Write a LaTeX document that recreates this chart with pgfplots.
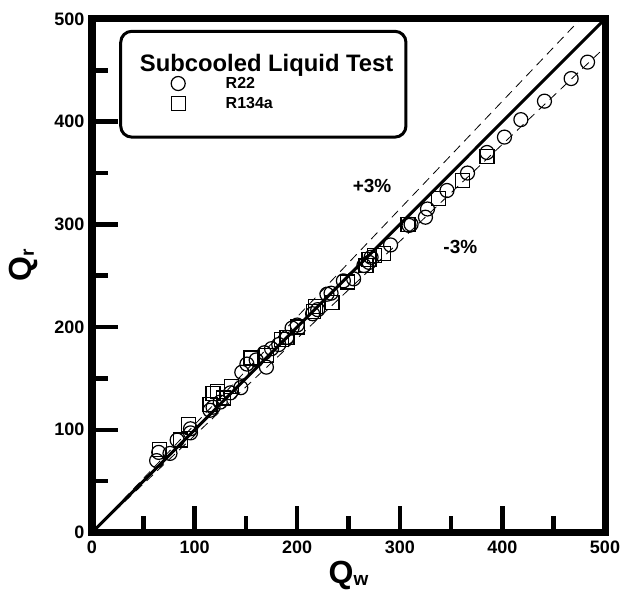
\documentclass[border=0pt]{standalone}
\usepackage{pgfplots}
\pgfplotsset{compat=1.18}
\usepackage{fontspec}
\setmainfont{Liberation Sans}
\pgfplotstableread{
x y
63 70
65 78
76 77
83 90
96 97
96 101
115 119
118 122
125 127
135 136
145 141
146 156
151 164
160 168
168 175
170 161
175 179
182 183
190 190
195 199
200 202
215 213
220 217
229 232
233 233
245 245
255 247
265 260
270 263
272 268
291 280
309 299
311 300
325 307
327 315
346 333
366 350
385 370
402 385
418 402
441 420
467 442
483 458
}\rtwotwo
\pgfplotstableread{
x y
66 81
86 90
94 105
115 125
118 135
122 137
128 131
136 142
155 170
170 172
185 188
190 190
200 200
216 215
218 220
234 224
249 244
267 260
270 266
275 270
284 272
308 300
338 325
361 343
385 366
}\ronethree
\begin{document}
\begin{tikzpicture}
\begin{axis}[
 scale only axis, width=513pt, height=513.5pt,
 xmin=0,xmax=500,ymin=0,ymax=500,
 xtick={0,100,...,500}, ytick={0,100,...,500},
 minor tick num=1,
 tick pos=left, tick align=inside,
 major tick length=26pt, minor tick length=16pt,
 xtick style={line width=4.5pt, black},
 ytick style={line width=4.5pt, black},
 axis line style={line width=7pt},
 ticklabel style={font=\fontsize{18}{20}\selectfont\bfseries},
 yticklabel style={xshift=-4pt},
 xticklabel style={yshift=-5pt},
 /pgf/number format/assume math mode=true,
 xlabel={\fontsize{32}{34}\selectfont\bfseries Q\raisebox{-2pt}{\fontsize{19}{20}\selectfont w}},
 ylabel={\fontsize{32}{34}\selectfont\bfseries Q\raisebox{-2pt}{\fontsize{19}{20}\selectfont r}},
 xlabel style={at={(axis description cs:0.5,-0.099)}, anchor=base},
 ylabel style={at={(axis description cs:-0.117,0.52)}, anchor=base},
 legend style={at={(axis cs:77,445)}, anchor=north west, draw=none, fill=none,
   font=\fontsize{16}{17}\selectfont\bfseries, inner sep=0pt, row sep=4.5pt,
   nodes={inner sep=1.5pt}},
 legend cell align=left,
 /tikz/every odd column/.append style={column sep=39pt},
]
\addplot[black, line width=3pt, forget plot] coordinates {(0,0) (500,500)};
\addplot[black, line width=0.8pt, dash pattern=on 9pt off 6pt, forget plot] coordinates {(0,0) (500,525)};
\addplot[black, line width=0.8pt, dash pattern=on 9pt off 6pt, forget plot] coordinates {(0,0) (500,472.5)};
\addplot[only marks, mark=o, mark size=7pt, mark options={line width=1.2pt, black}] table {\rtwotwo};
\addlegendentry{R22}
\addplot[only marks, mark=square, mark size=7pt, mark options={line width=1.2pt, black}] table {\ronethree};
\addlegendentry{R134a}
\draw[line width=3pt, rounded corners=11pt] (axis cs:28,488) rectangle (axis cs:306,385);
\node[anchor=base west, font=\fontsize{23.8}{26}\selectfont\bfseries, inner sep=0pt] at (axis cs:46.5,449) {Subcooled Liquid Test};
\node[font=\fontsize{19}{21}\selectfont\bfseries] at (axis cs:273,337) {+3\%};
\node[font=\fontsize{19}{21}\selectfont\bfseries] at (axis cs:359,278) {-3\%};
\end{axis}
\draw[line width=7pt, line join=miter] (current axis.south west) rectangle (current axis.north east);
\path[draw=none] ([xshift=-92pt,yshift=-60.5pt]current axis.south west) rectangle ([xshift=31pt,yshift=19pt]current axis.north east);
\end{tikzpicture}
\end{document}
